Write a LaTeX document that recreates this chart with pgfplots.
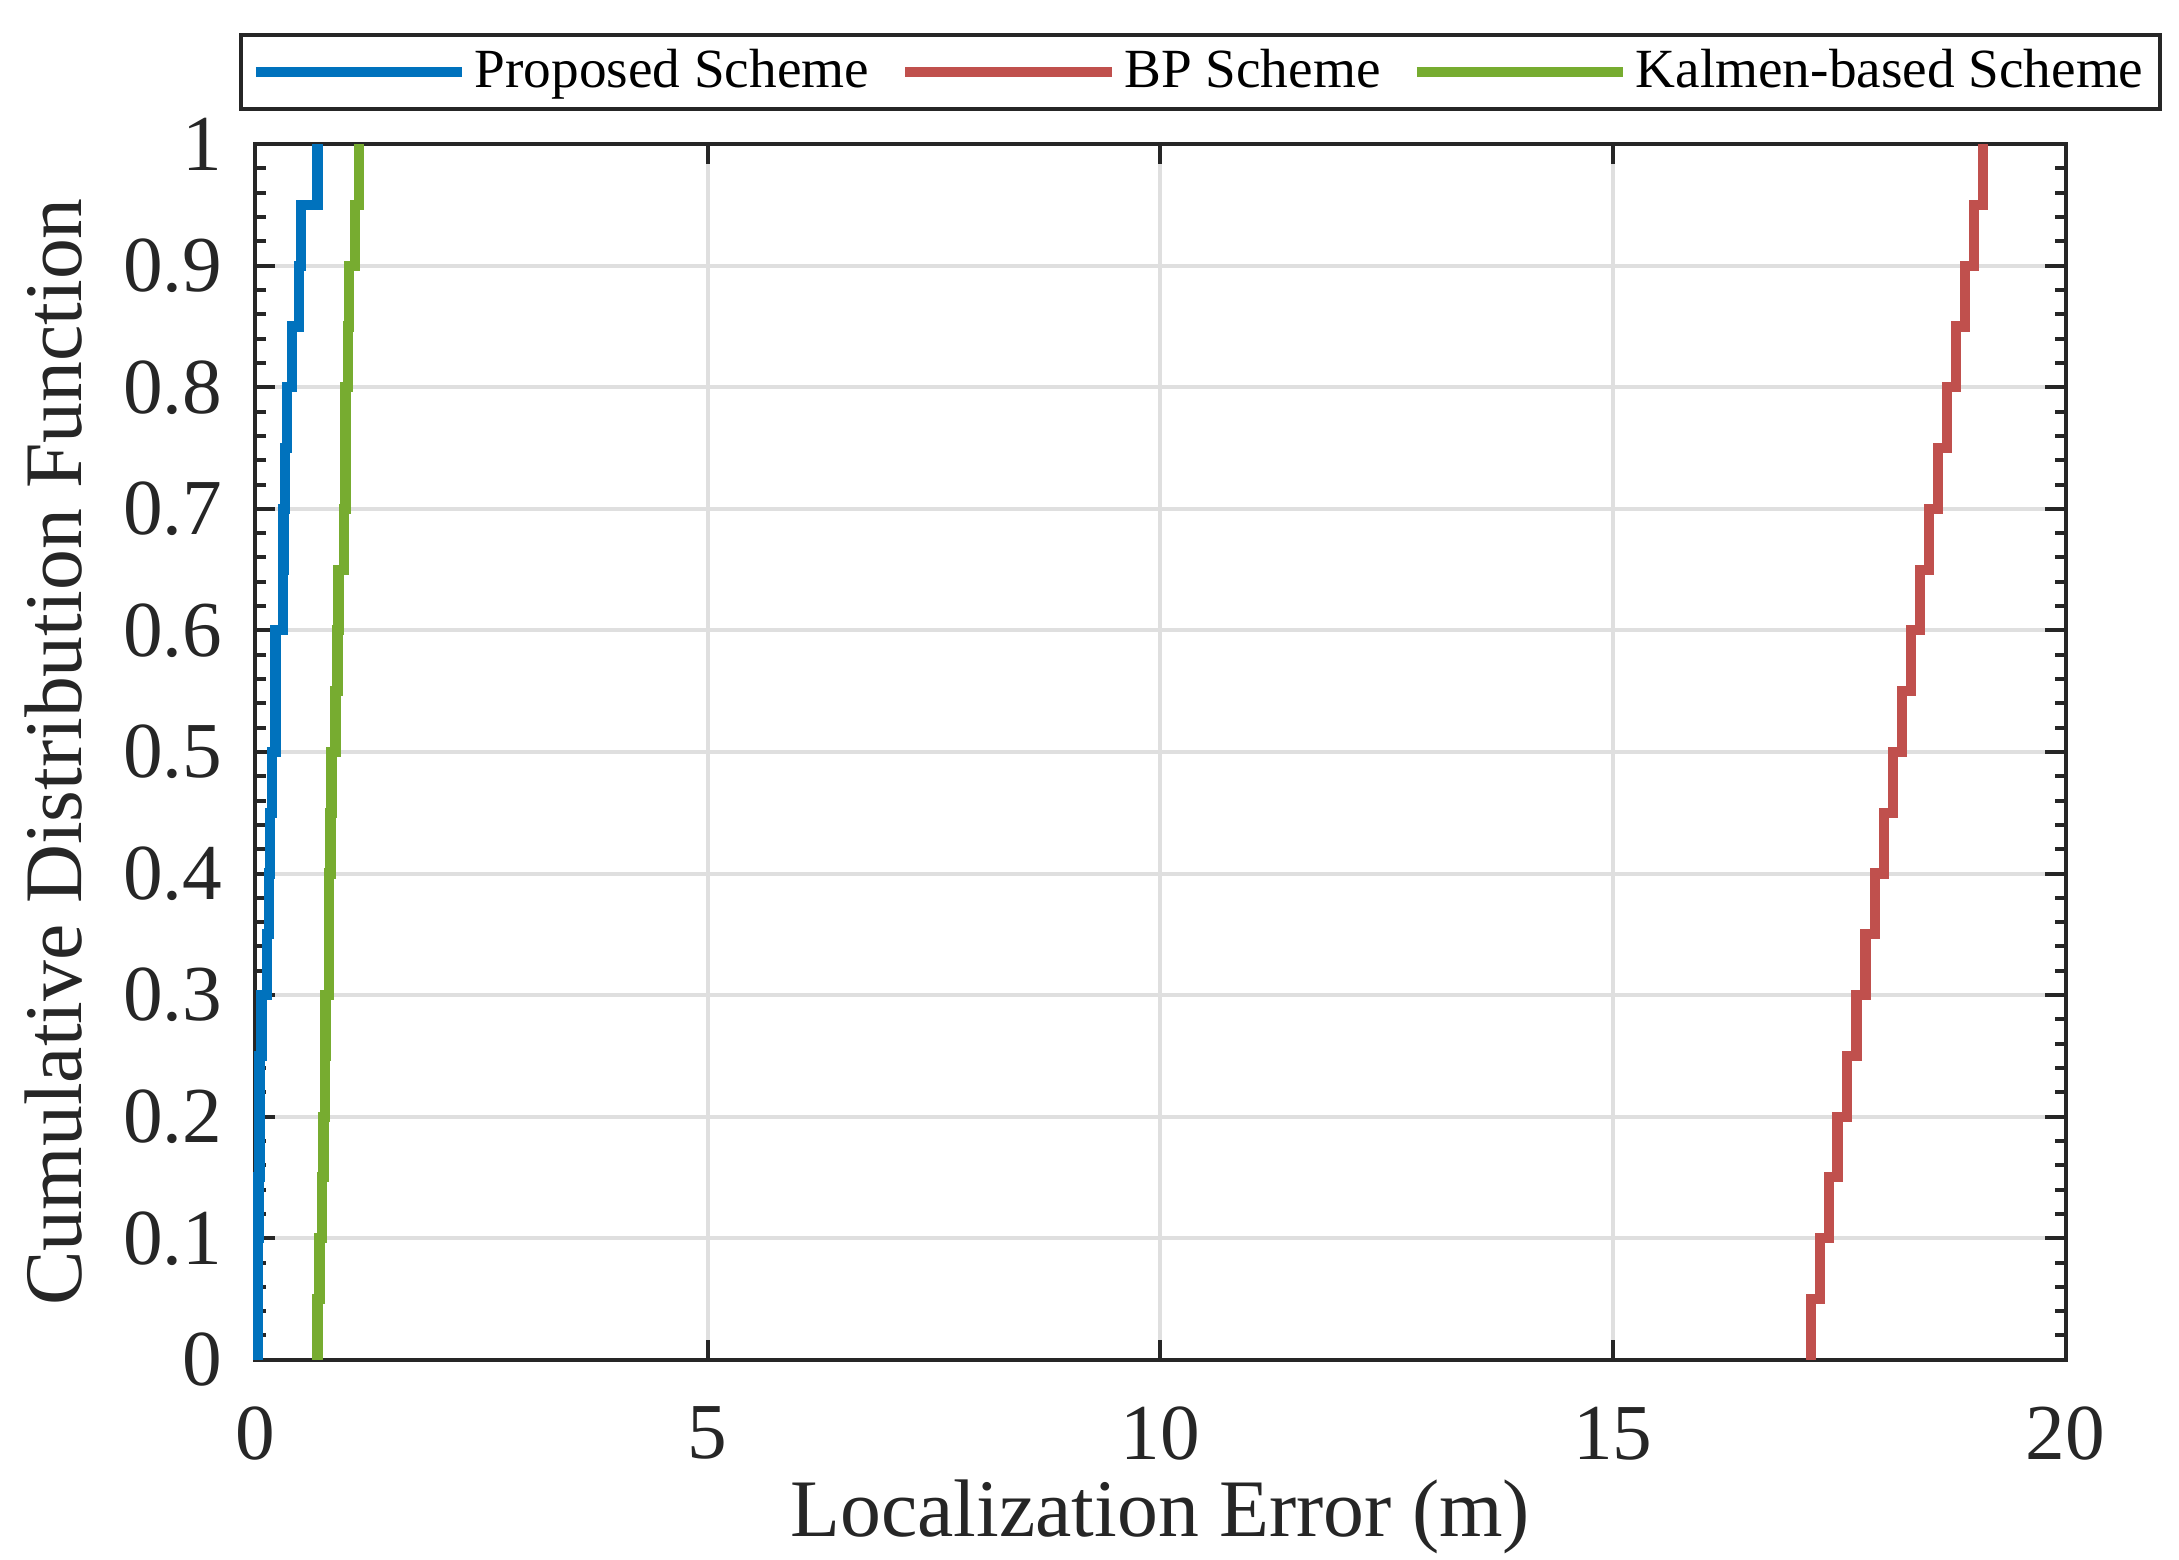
\documentclass[border=0pt]{standalone}
\usepackage{fontspec}
\setmainfont{Liberation Serif}
\usepackage{pgfplots}
\usepackage{pgfplotstable}
\pgfplotsset{compat=1.18}
\definecolor{axgray}{RGB}{38,38,38}
\definecolor{gridgray}{RGB}{223,223,223}
\definecolor{mblue}{RGB}{0,114,189}
\definecolor{mred}{RGB}{192,80,77}
\definecolor{mgreen}{RGB}{119,172,48}

% empirical CDF steps: x = error (m), F = cumulative probability
\pgfplotstableread{
x F
0.035 0.00
0.035 0.05
0.035 0.10
0.037 0.15
0.048 0.20
0.048 0.25
0.070 0.30
0.133 0.35
0.158 0.40
0.160 0.45
0.191 0.50
0.225 0.55
0.225 0.60
0.305 0.65
0.313 0.70
0.331 0.75
0.357 0.80
0.412 0.85
0.483 0.90
0.505 0.95
0.689 1.00
}\proposed

\pgfplotstableread{
x F
17.19 0.00
17.19 0.05
17.29 0.10
17.39 0.15
17.48 0.20
17.59 0.25
17.69 0.30
17.79 0.35
17.89 0.40
17.99 0.45
18.09 0.50
18.19 0.55
18.29 0.60
18.39 0.65
18.49 0.70
18.59 0.75
18.69 0.80
18.79 0.85
18.89 0.90
18.99 0.95
19.09 1.00
}\bp

\pgfplotstableread{
x F
0.689 0.00
0.689 0.05
0.711 0.10
0.740 0.15
0.755 0.20
0.770 0.25
0.777 0.30
0.814 0.35
0.814 0.40
0.833 0.45
0.844 0.50
0.888 0.55
0.910 0.60
0.921 0.65
0.980 0.70
0.998 0.75
0.998 0.80
1.028 0.85
1.035 0.90
1.108 0.95
1.149 1.00
}\kalmen

\begin{document}
\begin{tikzpicture}
\useasboundingbox (-53.1pt,-41.6pt) rectangle (400.4pt,283.0pt);
\begin{axis}[
    scale only axis,
    width=376.8pt, height=253.0pt,
    xmin=0, xmax=20, ymin=0, ymax=1,
    xtick={0,5,10,15,20},
    ytick={0,0.1,0.2,0.3,0.4,0.5,0.6,0.7,0.8,0.9,1},
    yticklabels={0,0.1,0.2,0.3,0.4,0.5,0.6,0.7,0.8,0.9,1},
    minor y tick num=4,
    tick align=inside,
    major tick length=4.2pt, minor tick length=2.3pt,
    every tick/.style={axgray, line width=0.83pt},
    axis line style={axgray, line width=0.83pt},
    grid=major,
    major grid style={gridgray, line width=0.83pt},
    clip=false,
    /pgf/number format/assume math mode=true,
    tick label style={font=\fontsize{16.5}{16.5}\selectfont, text=axgray},
    xticklabel style={anchor=north, inner sep=0pt, yshift=-9.6pt},
    yticklabel style={anchor=east, inner sep=0pt, xshift=-6.6pt},
    xlabel={Localization Error (m)},
    ylabel={Cumulative Distribution Function},
    every axis x label/.style={at={(axis description cs:0.5,-0.1455)}, anchor=base,
        inner sep=0pt, font=\fontsize{17}{17}\selectfont, text=axgray},
    every axis y label/.style={at={(axis description cs:-0.095,0.5)}, rotate=90, anchor=south,
        inner sep=0pt, font=\fontsize{17}{17}\selectfont, text=axgray},
    legend columns=3,
    legend style={at={(axis description cs:-0.0088,1.027)}, anchor=south west,
        draw=axgray, line width=0.83pt, fill=white,
        font=\fontsize{11.5}{11.5}\selectfont,
        inner xsep=2pt, inner ysep=1.5pt,
        nodes={inner sep=1.5pt},
        /tikz/every even column/.append style={column sep=5pt}},
    legend image code/.code={\draw[#1] (0pt,0pt) -- (43pt,0pt);},
]

\addplot[mblue, line width=2.1pt, const plot mark left] table {\proposed};
\addlegendentry{Proposed Scheme}

\addplot[mred, line width=2.1pt, const plot mark left] table {\bp};
\addlegendentry{BP Scheme}

\addplot[mgreen, line width=2.1pt, const plot mark left] table {\kalmen};
\addlegendentry{Kalmen-based Scheme}

\end{axis}
\end{tikzpicture}
\end{document}
